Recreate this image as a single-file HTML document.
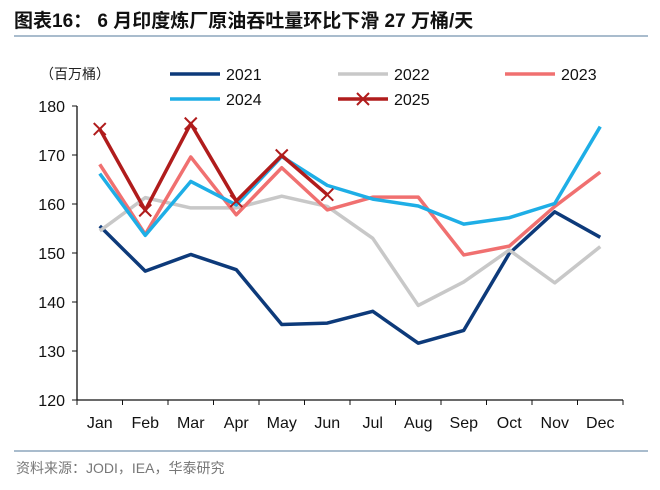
<!DOCTYPE html>
<html><head><meta charset="utf-8"><style>
body{margin:0;background:#fff;width:660px;height:485px;overflow:hidden;font-family:"Liberation Sans","Noto Sans CJK SC",sans-serif}
</style></head><body>
<svg width="660" height="485" xmlns="http://www.w3.org/2000/svg" font-family="Liberation Sans, Noto Sans CJK SC, sans-serif">
<text x="14" y="27" font-size="19" font-weight="bold" fill="#111">图表16：  6 月印度炼厂原油吞吐量环比下滑 27 万桶/天</text>
<line x1="14" y1="36" x2="648" y2="36" stroke="#a9bccd" stroke-width="2"/>
<text x="40" y="79" font-size="14" fill="#222">（百万桶）</text>
<g id="legend" font-size="16" fill="#111"></g>
<g id="axes"></g>
<g id="series"></g>
<line x1="14" y1="451" x2="648" y2="451" stroke="#a9bccd" stroke-width="2"/>
<text x="16" y="473" font-size="14" fill="#777">资料来源：JODI，IEA，华泰研究</text>
</svg>
<script>
const months=["Jan","Feb","Mar","Apr","May","Jun","Jul","Aug","Sep","Oct","Nov","Dec"];
const yTicks=[120,130,140,150,160,170,180];
const s2021=[155.5,146.3,149.7,146.6,135.4,135.7,138.1,131.6,134.2,149.9,158.4,153.2];
const s2022=[154.5,161.3,159.2,159.2,161.6,159.5,153.0,139.3,144.1,150.6,143.9,151.3];
const s2023=[168.1,153.8,169.6,157.8,167.4,158.8,161.4,161.4,149.6,151.4,159.5,166.5];
const s2024=[166.2,153.6,164.6,159.8,169.7,163.8,161.0,159.6,155.9,157.2,160.1,175.8];
const s2025=[175.3,158.7,176.4,160.6,169.9,161.9];
const NS="http://www.w3.org/2000/svg";
const x0=77,x1=623,yMin=120,yMax=180,yTop=106,yBot=400;
const bw=(x1-x0)/months.length;
const X=i=>x0+bw*(i+0.5);
const Y=v=>yBot-(v-yMin)/(yMax-yMin)*(yBot-yTop);
function mk(tag,attrs,parent){const e=document.createElementNS(NS,tag);for(const k in attrs)e.setAttribute(k,attrs[k]);parent.appendChild(e);return e;}
const axes=document.getElementById('axes');
let e=mk('line',{x1:x0,y1:yTop,x2:x0,y2:yBot,stroke:'#111','stroke-width':1.3},axes);


e=mk('line',{x1:x0,y1:yBot,x2:x1,y2:yBot,stroke:'#111','stroke-width':1.3},axes);


yTicks.forEach(v=>{
 let t=mk('line',{x1:x0-5,y1:Y(v),x2:x0,y2:Y(v),stroke:'#111'},axes);
 
 
 let l=mk('text',{x:x0-12,y:Y(v)+6,'text-anchor':'end','font-size':16,fill:'#111'},axes);l.textContent=v;
 
 
});
for(let i=0;i<=months.length;i++){
 let t=mk('line',{x1:x0+bw*i,y1:yBot,x2:x0+bw*i,y2:yBot+5,stroke:'#111'},axes);
 
 
}
months.forEach((m,i)=>{
 let l=mk('text',{x:X(i),y:428,'text-anchor':'middle','font-size':16,fill:'#111'},axes);l.textContent=m;
 
 
});
const series=[
 {name:'2021',data:s2021,color:'#0d3a7a'},
 {name:'2022',data:s2022,color:'#c8c8c8'},
 {name:'2023',data:s2023,color:'#f07070'},
 {name:'2024',data:s2024,color:'#1eaee6'},
 {name:'2025',data:s2025,color:'#b01c1c',marker:true}];
const sg=document.getElementById('series');
series.forEach(s=>{
 const g=mk('g',{},sg);
 
 
 const p=mk('polyline',{points:s.data.map((v,i)=>X(i)+','+Y(v)).join(' '),fill:'none',stroke:s.color,'stroke-width':3.5,'stroke-linejoin':'round'},g);
 
 
 if(s.marker)s.data.forEach((v,i)=>{
  const m=mk('path',{d:`M${X(i)-6},${Y(v)-6}L${X(i)+6},${Y(v)+6}M${X(i)-6},${Y(v)+6}L${X(i)+6},${Y(v)-6}`,stroke:s.color,'stroke-width':2},g);
  
  
 });
});
const leg=document.getElementById('legend');
const lpos=[[170,74],[338,74],[505,74],[170,99],[338,99]];
series.forEach((s,i)=>{
 const [lx,ly]=lpos[i];
 const g=mk('g',{},leg);
 
 
 mk('line',{x1:lx,y1:ly,x2:lx+50,y2:ly,stroke:s.color,'stroke-width':3.5},g);
 if(s.marker)mk('path',{d:`M${lx+19},${ly-6}L${lx+31},${ly+6}M${lx+19},${ly+6}L${lx+31},${ly-6}`,stroke:s.color,'stroke-width':2},g);
 const t=mk('text',{x:lx+56,y:ly+6,'font-size':16,fill:'#111'},g);t.textContent=s.name;
});
</script>
</body></html>
